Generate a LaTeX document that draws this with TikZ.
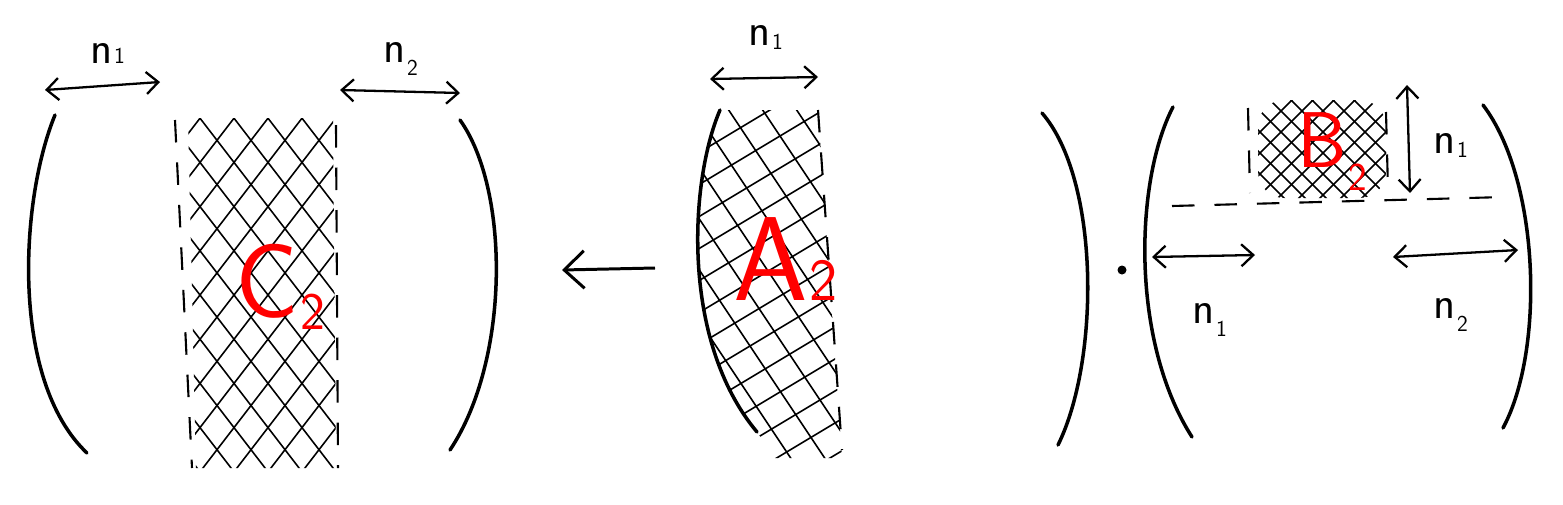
\documentclass[tikz,border=0pt]{standalone}
\usepackage{tikz}
\usetikzlibrary{arrows.meta}

\newcommand{\idx}[2][0em]{\kern1pt\raisebox{-#1}{\scalebox{0.5}{#2}}}

\begin{document}
\begin{tikzpicture}[x=0.2mm, y=-0.2mm,
paren/.style={line width=2pt, line cap=round},
dimarrow/.style={{Straight Barb[length=2.4mm,width=4.4mm]}-{Straight Barb[length=2.4mm,width=4.4mm]}, line width=1.3pt},
bigarrow/.style={-{Straight Barb[length=4mm,width=7.5mm]}, line width=1.7pt},
hatch/.style={line width=0.9pt},
border/.style={dash pattern=on 4.5mm off 4mm, line width=1.2pt},
dimlabel/.style={anchor=base west, inner sep=0pt, font=\sffamily\fontsize{26}{26}\selectfont},
blocklabel/.style={anchor=base west, inner sep=0pt, text=red, font=\sffamily\fontsize{60}{60}\selectfont}
]
\useasboundingbox (0,0) rectangle (1563,504);

% left matrix C_2
\draw[paren] (55,115) .. controls (20,200) and (10,380) .. (87,453);
\draw[paren] (460,120) .. controls (510,190) and (510,360) .. (450,450);
\begin{scope}
\clip (188,118) -- (333,118) -- (336,468) -- (196,468) -- cycle;
\foreach \i in {-120,-86,...,360} \draw[hatch] (\i,100) -- ++(300,390);
\foreach \i in {180,214,...,680} \draw[hatch] (\i,100) -- ++(-300,390);
\end{scope}
\draw[border] (175,120) -- (192,468);
\draw[border] (336,125) -- (338,468);
\node[blocklabel] (C2) at (235,317) {C\idx[0.12em]{2}};

\coordinate (cl1) at (45,90);
\coordinate (cr1) at (160,82);
\coordinate (cl2) at (340,90);
\coordinate (cr2) at (460,93);
\draw[dimarrow] (cl1) -- (cr1);
\draw[dimarrow] (cl2) -- (cr2);
\node[dimlabel] (cn1) at (90,63) {n\idx{1}};
\node[dimlabel] (cn2) at (383,62) {n\idx[0.3em]{2}};

% arrow between
\coordinate (mapS) at (655,268);
\coordinate (mapE) at (562,270);
\draw[bigarrow] (mapS) -- (mapE);

% middle matrix A_2
\begin{scope}
\clip (720,110) .. controls (690,180) and (680,340) .. (757,432) -- (775,458) -- (842,458) -- (818,110) -- cycle;
\foreach \i in {100,132,...,560} \draw[hatch] (680,\i) -- ++(180,-108);
\foreach \i in {450,484,...,840} \draw[hatch] (\i,100) -- ++(240,360);
\end{scope}
\draw[paren] (720,110) .. controls (690,180) and (680,340) .. (757,432);
\draw[border] (818,110) -- (842,450);
\node[blocklabel, font=\sffamily\fontsize{68}{68}\selectfont] (A2) at (733,300) {A\idx{2}};

\coordinate (al) at (710,79);
\coordinate (ar) at (818,77);
\draw[dimarrow] (al) -- (ar);
\node[dimlabel] (an1) at (748,45) {n\idx[0.1em]{1}};

\draw[paren] (1042,113) .. controls (1100,180) and (1100,360) .. (1058,445);
\fill (1122,270) circle[radius=4.5];

% right matrix B_2
\draw[paren] (1173,107) .. controls (1135,180) and (1130,340) .. (1192,437);
\draw[paren] (1483,105) .. controls (1540,180) and (1545,350) .. (1503,428);
\begin{scope}
\clip[rounded corners=15] (1258,100) rectangle (1386,198);
\foreach \i in {1160,1181,...,1390} \draw[hatch] (\i,95) -- ++(110,110);
\foreach \i in {1255,1276,...,1500} \draw[hatch] (\i,95) -- ++(-110,110);
\end{scope}
\draw[border] (1248,108) -- (1250,193);
\draw[border] (1386,112) -- (1388,190);
\draw[border] (1172,206) -- (1505,197);
\node[blocklabel, font=\sffamily\fontsize{45}{45}\selectfont] (B2) at (1297,167) {B\idx[0.3em]{2}};

\coordinate (bt) at (1407,85);
\coordinate (bb) at (1410,193);
\coordinate (bl1) at (1152,257);
\coordinate (br1) at (1255,255);
\coordinate (bl2) at (1393,257);
\coordinate (br2) at (1518,250);
\draw[dimarrow] (bt) -- (bb);
\draw[dimarrow] (bl1) -- (br1);
\draw[dimarrow] (bl2) -- (br2);
\node[dimlabel] (bn1) at (1433,153) {n\idx[0.1em]{1}};
\node[dimlabel] (bn2) at (1192,323) {n\idx[0.3em]{1}};
\node[dimlabel] (bn3) at (1433,318) {n\idx[0.3em]{2}};
\end{tikzpicture}
\end{document}
